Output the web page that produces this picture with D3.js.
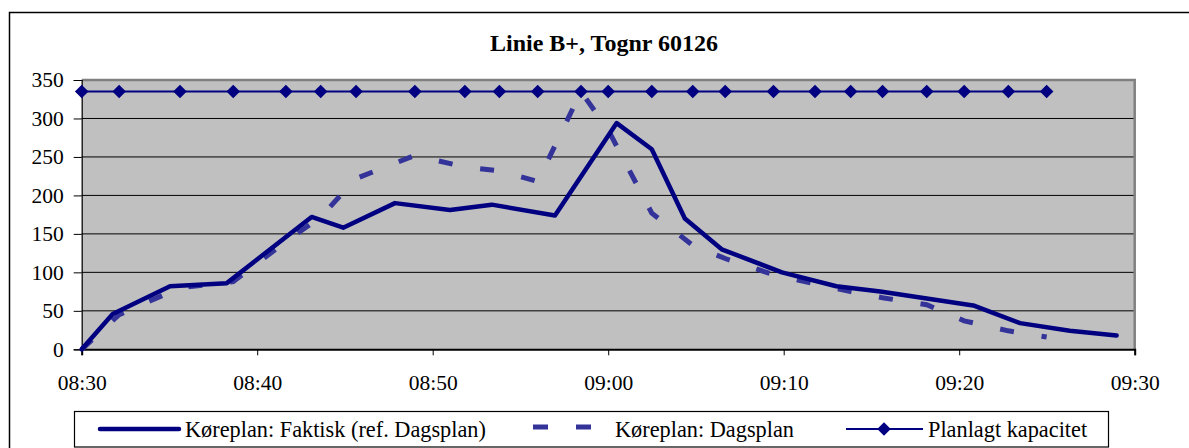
<!DOCTYPE html>
<html>
<head>
<meta charset="utf-8">
<script src="https://d3js.org/d3.v7.min.js"></script>
<style>
    body { margin: 0; background: #fff; }
    svg text { font-family: "Liberation Serif", Tinos, "Times New Roman", "DejaVu Serif", serif !important; fill: #000; }
</style>
</head>
<body>
<svg id="chart" width="1189" height="448"></svg>
<script>
    // Køreplan: Faktisk (ref. Dagsplan)
    const faktiskTid = ["08:30:00", "08:31:46", "08:35:02", "08:38:16", "08:43:06", "08:44:54", "08:47:51",
        "08:50:59", "08:53:22", "08:56:58", "09:00:29", "09:02:29", "09:04:22", "09:06:28", "09:09:54",
        "09:13:00", "09:15:30", "09:18:09", "09:20:48", "09:23:28", "09:26:18", "09:28:58"];
    const faktiskAntal = [0, 46, 82, 86, 172, 158, 190, 181, 188, 174, 294, 260, 170, 130, 100,
        82, 75, 66, 57, 34, 24, 18];

    // Køreplan: Dagsplan (same stops as the capacity series)
    const dagsplanTid = ["08:30:00", "08:32:08", "08:35:36", "08:38:38", "08:41:38", "08:43:37", "08:45:38",
        "08:48:59", "08:51:50", "08:53:48", "08:55:59", "08:58:27", "09:00:00", "09:02:29", "09:04:49",
        "09:06:40", "09:09:25", "09:11:47", "09:13:49", "09:15:38", "09:18:09", "09:20:17", "09:22:48", "09:24:59"];
    const dagsplanAntal = [0, 45, 80, 88, 140, 172, 222, 252, 237, 232, 218, 335, 285, 177, 135,
        118, 97, 85, 75, 67, 58, 37, 24, 16];

    // Planlagt kapacitet
    const kapacitet = [335, 335, 335, 335, 335, 335, 335, 335, 335, 335, 335, 335, 335, 335, 335,
        335, 335, 335, 335, 335, 335, 335, 335, 335];

    const yTicks = [0, 50, 100, 150, 200, 250, 300, 350];
    const xTicks = ["08:30", "08:40", "08:50", "09:00", "09:10", "09:20", "09:30"];

    const parseT = d3.timeParse("%H:%M:%S");
    const parseHM = d3.timeParse("%H:%M");
    const serif = "'Liberation Serif', Tinos, 'Times New Roman', 'DejaVu Serif', serif";

    const margin = { top: 80, right: 54.3, bottom: 98.7, left: 81.7 },
        W = 1189, H = 448,
        width = W - margin.left - margin.right,
        height = H - margin.top - margin.bottom;

    const svg = d3.select("#chart");

    // outer chart frame (runs past the right/bottom edge)
    svg.append("rect")
        .attr("x", 9.5).attr("y", 12.5)
        .attr("width", 1200).attr("height", 500)
        .attr("fill", "#fff").attr("stroke", "#000").attr("stroke-width", 1.5);

    svg.append("text")
        .attr("x", 604).attr("y", 50.5)
        .attr("text-anchor", "middle")
        .attr("font-family", serif)
        .attr("font-size", "24px").attr("font-weight", "bold")
        .text("Linie B+, Tognr 60126");

    const g = svg.append("g")
        .attr("transform", "translate(" + margin.left + "," + margin.top + ")");

    const x = d3.scaleTime()
        .domain([parseHM("08:30"), parseHM("09:30")])
        .range([0, width]);
    const y = d3.scaleLinear()
        .domain([0, 350])
        .range([height, 0]);

    // plot area
    g.append("rect")
        .attr("width", width).attr("height", height)
        .attr("fill", "#c0c0c0");

    // gridlines
    g.selectAll(".grid")
        .data(yTicks.filter(d => d > 0 && d < 350))
        .join("line")
        .attr("class", "grid")
        .attr("x1", 0).attr("x2", width)
        .attr("y1", d => y(d)).attr("y2", d => y(d))
        .attr("stroke", "#000").attr("stroke-width", 1);

    // gray top/right border
    g.append("path")
        .attr("d", "M0," + y(350) + "H" + width + "V" + height)
        .attr("fill", "none").attr("stroke", "#808080").attr("stroke-width", 2.5);

    // axes
    const yAxis = g.append("g")
        .call(d3.axisLeft(y).tickValues(yTicks).tickSize(8).tickPadding(10));
    const xAxis = g.append("g")
        .attr("transform", "translate(0," + height + ")")
        .call(d3.axisBottom(x).tickValues(xTicks.map(parseHM)).tickSize(6).tickPadding(19)
            .tickFormat(d3.timeFormat("%H:%M")));
    [yAxis, xAxis].forEach(a => {
        a.attr("font-family", serif).attr("font-size", 21.5);
        a.selectAll("line").attr("stroke", "#000");
    });
    yAxis.select(".domain").attr("stroke", "#000").attr("stroke-width", 1.2);
    xAxis.select(".domain").attr("stroke", "#000").attr("stroke-width", 2);

    const faktisk = faktiskTid.map((t, i) => ({ t: parseT(t), v: faktiskAntal[i] }));
    const dagsplan = dagsplanTid.map((t, i) => ({ t: parseT(t), v: dagsplanAntal[i] }));
    const kap = dagsplanTid.map((t, i) => ({ t: parseT(t), v: kapacitet[i] }));

    const line = d3.line().x(d => x(d.t)).y(d => y(d.v));

    g.append("path").datum(kap)
        .attr("d", line)
        .attr("fill", "none").attr("stroke", "#000080").attr("stroke-width", 2);

    const diamond = d3.symbol(d3.symbolSquare, 92);
    g.selectAll(".kap")
        .data(kap)
        .join("path")
        .attr("class", "kap")
        .attr("d", diamond)
        .attr("transform", d => "translate(" + x(d.t) + "," + y(d.v) + ") rotate(45)")
        .attr("fill", "#000080");

    g.append("path").datum(dagsplan)
        .attr("d", line)
        .attr("fill", "none").attr("stroke", "#333399").attr("stroke-width", 5)
        .attr("stroke-dasharray", "14,28");

    g.append("path").datum(faktisk)
        .attr("d", line)
        .attr("fill", "none").attr("stroke", "#000080").attr("stroke-width", 4.5)
        .attr("stroke-linejoin", "round").attr("stroke-linecap", "round");

    // legend
    const leg = svg.append("g");
    leg.append("rect")
        .attr("x", 74.5).attr("y", 411.5).attr("width", 1034).attr("height", 35.5)
        .attr("fill", "#fff").attr("stroke", "#000").attr("stroke-width", 1.2);
    const ly = 429;
    leg.append("line")
        .attr("x1", 100).attr("x2", 179).attr("y1", ly).attr("y2", ly)
        .attr("stroke", "#000080").attr("stroke-width", 4.5).attr("stroke-linecap", "round");
    leg.append("line")
        .attr("x1", 533).attr("x2", 591).attr("y1", ly - 2).attr("y2", ly - 2)
        .attr("stroke", "#333399").attr("stroke-width", 5).attr("stroke-dasharray", "15,28");
    leg.append("line")
        .attr("x1", 846).attr("x2", 923).attr("y1", ly).attr("y2", ly)
        .attr("stroke", "#000080").attr("stroke-width", 2);
    leg.append("path")
        .attr("d", diamond)
        .attr("transform", "translate(884," + ly + ") rotate(45)")
        .attr("fill", "#000080");
    const labels = [
        { x: 185, t: "Køreplan: Faktisk (ref. Dagsplan)" },
        { x: 615, t: "Køreplan: Dagsplan" },
        { x: 928, t: "Planlagt kapacitet" }
    ];
    leg.selectAll(".lt")
        .data(labels)
        .join("text")
        .attr("class", "lt")
        .attr("x", d => d.x).attr("y", 437)
        .attr("font-family", serif)
        .attr("font-size", "22.3px")
        .text(d => d.t);
</script>
</body>
</html>
